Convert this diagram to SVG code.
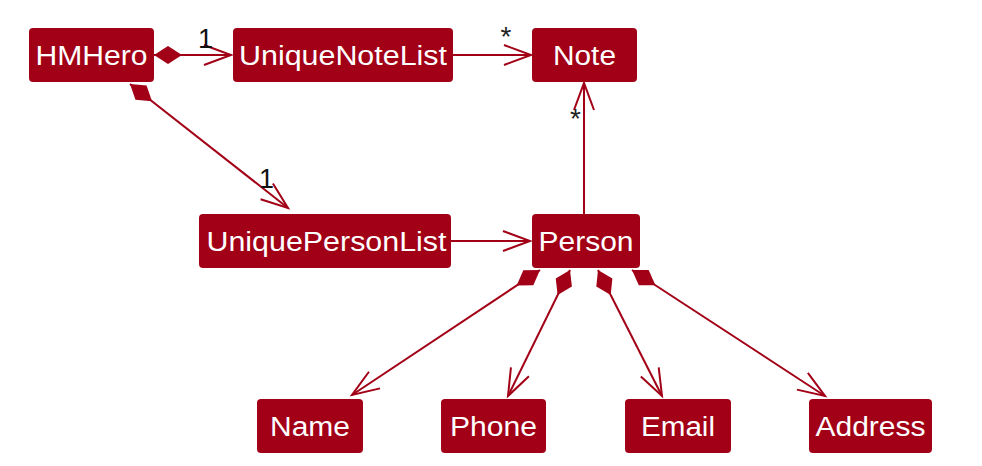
<svg xmlns="http://www.w3.org/2000/svg" width="982" height="466" viewBox="0 0 982 466">
<defs>
<style>
.box{fill:#A20016;}
.lbl{font-family:"Liberation Sans",Arial,sans-serif;font-size:27px;fill:#ffffff;text-anchor:middle;}
.mult{font-family:"Liberation Sans",Arial,sans-serif;font-size:27px;fill:#111111;text-anchor:middle;}
.star{font-family:"Liberation Sans",Arial,sans-serif;font-size:28px;fill:#222222;text-anchor:middle;}
.edge{fill:none;stroke:#A20016;stroke-width:2;}
</style>
<marker id="arrow" markerUnits="userSpaceOnUse" markerWidth="40" markerHeight="40" refX="0" refY="0" orient="auto" overflow="visible">
<path d="M-27,-10 L0,0 L-27,10" fill="none" stroke="#A20016" stroke-width="2"/>
</marker>
<marker id="diamond" markerUnits="userSpaceOnUse" markerWidth="40" markerHeight="40" refX="0" refY="0" orient="auto" overflow="visible">
<path d="M0,0 L14,-9 L28,0 L14,9 Z" fill="#A20016"/>
</marker>
</defs>
<rect width="982" height="466" fill="#ffffff"/>
<g id="connectors">
<path class="edge" d="M154,55 L231,55" marker-start="url(#diamond)" marker-end="url(#arrow)"/>
<path class="edge" d="M453,55 L531,55" marker-end="url(#arrow)"/>
<path class="edge" d="M584,214 L584,83" marker-end="url(#arrow)"/>
<path class="edge" d="M130,84 L288,208" marker-start="url(#diamond)" marker-end="url(#arrow)"/>
<path class="edge" d="M451,241 L530,241" marker-end="url(#arrow)"/>
<path class="edge" d="M540,270 L352,395" marker-start="url(#diamond)" marker-end="url(#arrow)"/>
<path class="edge" d="M570,270 L508,396" marker-start="url(#diamond)" marker-end="url(#arrow)"/>
<path class="edge" d="M598,270 L662,396" marker-start="url(#diamond)" marker-end="url(#arrow)"/>
<path class="edge" d="M632,270 L825,396" marker-start="url(#diamond)" marker-end="url(#arrow)"/>
<text class="mult" x="205.5" y="48">1</text>
<text class="star" x="506" y="46">*</text>
<text class="star" x="575.5" y="128">*</text>
<text class="mult" x="266.5" y="188">1</text>
</g>
<g id="HMHero"><rect class="box" x="29" y="28" width="125" height="54" rx="4"/><text class="lbl" x="91.5" y="64.5" textLength="112" lengthAdjust="spacingAndGlyphs">HMHero</text></g>
<g id="UniqueNoteList"><rect class="box" x="233" y="28" width="220" height="54" rx="4"/><text class="lbl" x="343" y="64.5" textLength="208" lengthAdjust="spacingAndGlyphs">UniqueNoteList</text></g>
<g id="Note"><rect class="box" x="532" y="28" width="105" height="54" rx="4"/><text class="lbl" x="584.5" y="64.5" textLength="63" lengthAdjust="spacingAndGlyphs">Note</text></g>
<g id="UniquePersonList"><rect class="box" x="199" y="214" width="252" height="54" rx="4"/><text class="lbl" x="326.5" y="250.5" textLength="240" lengthAdjust="spacingAndGlyphs">UniquePersonList</text></g>
<g id="Person"><rect class="box" x="532" y="214" width="108" height="54" rx="4"/><text class="lbl" x="586" y="250.5" textLength="95" lengthAdjust="spacingAndGlyphs">Person</text></g>
<g id="Name"><rect class="box" x="257" y="399" width="106" height="54" rx="4"/><text class="lbl" x="310" y="435.5" textLength="80" lengthAdjust="spacingAndGlyphs">Name</text></g>
<g id="Phone"><rect class="box" x="441" y="399" width="105" height="54" rx="4"/><text class="lbl" x="493.5" y="435.5" textLength="87" lengthAdjust="spacingAndGlyphs">Phone</text></g>
<g id="Email"><rect class="box" x="625" y="399" width="106" height="54" rx="4"/><text class="lbl" x="678" y="435.5" textLength="74" lengthAdjust="spacingAndGlyphs">Email</text></g>
<g id="Address"><rect class="box" x="809" y="399" width="123" height="54" rx="4"/><text class="lbl" x="870.5" y="435.5" textLength="110" lengthAdjust="spacingAndGlyphs">Address</text></g>
</svg>
